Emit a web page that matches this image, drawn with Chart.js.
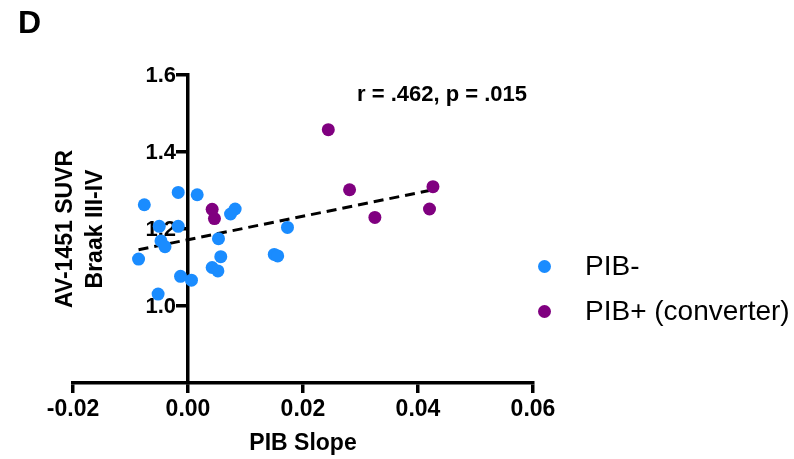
<!DOCTYPE html>
<html>
<head>
<meta charset="utf-8">
<script src="https://cdn.jsdelivr.net/npm/chart.js@4.4.1/dist/chart.umd.min.js"></script>
<style>
  html, body { margin: 0; padding: 0; background: #fff; }
  #wrap { position: relative; width: 794px; height: 459px; }
  .leg { position: absolute; left: 538px; height: 32px; line-height: 32px; display: flex; align-items: center;
         font: 28px 'Liberation Sans', Arial, sans-serif; color: #000; white-space: nowrap; }
  .dot { width: 13px; height: 13px; border-radius: 50%; margin-right: 34px; }
</style>
</head>
<body>
<div id="wrap">
  <canvas id="scatter-chart" width="794" height="459"></canvas>
  <div class="leg" style="top:250px"><span class="dot" style="background:#1a8cff"></span>PIB-</div>
  <div class="leg" style="top:295px"><span class="dot" style="background:#800080"></span>PIB+ (converter)</div>
</div>
<script>
const pibNegX = [-0.0076, -0.0017, 0.0016, 0.0082, 0.0074, -0.0050, -0.0017, -0.0047, -0.0040, 0.0053,
  -0.0086, 0.0057, 0.0042, 0.0052, -0.0013, 0.0006, -0.0052, 0.0173, 0.0150, 0.0156];
const pibNegY = [1.263, 1.295, 1.289, 1.252, 1.239, 1.207, 1.207, 1.169, 1.154, 1.175,
  1.122, 1.128, 1.100, 1.091, 1.077, 1.067, 1.031, 1.204, 1.134, 1.130];

const pibPosX = [0.0042, 0.0046, 0.0244, 0.0281, 0.0325, 0.0426, 0.0420];
const pibPosY = [1.251, 1.227, 1.458, 1.302, 1.230, 1.310, 1.252];

const fitX = [-0.0086, 0.0426];
const fitY = [1.146, 1.302];

const xTicks = [-0.02, 0.0, 0.02, 0.04, 0.06];
const yTicks = [1.0, 1.2, 1.4, 1.6];

const toPoints = (xs, ys) => xs.map((x, i) => ({ x, y: ys[i] }));
const FONT = "'Liberation Sans', Arial, Helvetica, sans-serif";

// y tick labels sit left of the crossing axis (Chart.js puts them on the line)
const yLabelPlugin = {
  id: 'yLabels',
  beforeDatasetsDraw(chart) {
    const { ctx, scales } = chart;
    const axisX = scales.x.getPixelForValue(0);
    ctx.save();
    ctx.fillStyle = '#000';
    ctx.font = 'bold 22px ' + FONT;
    ctx.textAlign = 'right';
    ctx.textBaseline = 'middle';
    yTicks.forEach((v) => {
      ctx.fillText(v.toFixed(1), axisX - 12, scales.y.getPixelForValue(v) + 1);
    });
    ctx.restore();
  },
};

// title letter, y axis title, correlation note
const textPlugin = {
  id: 'texts',
  afterDraw(chart) {
    const ctx = chart.ctx;
    ctx.save();
    ctx.fillStyle = '#000';
    ctx.font = 'bold 32px ' + FONT;
    ctx.textAlign = 'left';
    ctx.textBaseline = 'alphabetic';
    ctx.fillText('D', 18, 33);

    ctx.font = 'bold 22px ' + FONT;
    ctx.fillText('r = .462, p = .015', 357, 101);

    const cy = (chart.chartArea.top + chart.chartArea.bottom) / 2;
    ctx.font = 'bold 23px ' + FONT;
    ctx.textAlign = 'center';
    ctx.textBaseline = 'middle';
    ctx.translate(66, cy);
    ctx.rotate(-Math.PI / 2);
    ctx.fillText('AV-1451 SUVR', 0, 0);
    ctx.fillText('Braak III-IV', 0, 30);
    ctx.restore();
  },
};

const axisLine = { color: '#000', width: 3.5 };
const tickMarks = { drawOnChartArea: false, drawTicks: true, tickLength: 10, color: '#000', lineWidth: 3.5 };

new Chart(document.getElementById('scatter-chart'), {
  type: 'scatter',
  data: {
    datasets: [
      {
        label: 'PIB-',
        data: toPoints(pibNegX, pibNegY),
        backgroundColor: '#1a8cff',
        borderWidth: 0,
        pointRadius: 6.5,
        order: 1,
      },
      {
        label: 'PIB+ (converter)',
        data: toPoints(pibPosX, pibPosY),
        backgroundColor: '#800080',
        borderWidth: 0,
        pointRadius: 6.5,
        order: 2,
      },
      {
        label: 'fit',
        type: 'line',
        data: toPoints(fitX, fitY),
        borderColor: '#000',
        borderWidth: 3,
        borderDash: [10, 6],
        pointRadius: 0,
        fill: false,
        order: 3,
      },
    ],
  },
  options: {
    responsive: false,
    animation: false,
    devicePixelRatio: 1,
    layout: {
      padding: { left: 73, right: 261, top: 75, bottom: 0 },
    },
    scales: {
      x: {
        type: 'linear',
        min: -0.02,
        max: 0.06,
        afterBuildTicks: (scale) => { scale.ticks = xTicks.map((v) => ({ value: v })); },
        afterFit: (scale) => { scale.height = 76; },
        border: axisLine,
        grid: tickMarks,
        ticks: {
          color: '#000',
          padding: 3,
          font: { family: FONT, size: 23, weight: 'bold' },
          callback: (v) => Number(v).toFixed(2),
        },
        title: {
          display: true,
          text: 'PIB Slope',
          color: '#000',
          padding: { top: 0, bottom: 2 },
          font: { family: FONT, size: 23, weight: 'bold' },
        },
      },
      y: {
        type: 'linear',
        position: { x: 0 },
        min: 0.8,
        max: 1.6,
        afterBuildTicks: (scale) => { scale.ticks = yTicks.map((v) => ({ value: v })); },
        border: axisLine,
        grid: tickMarks,
        ticks: { display: false },
      },
    },
    plugins: {
      legend: { display: false },
      tooltip: { enabled: false },
    },
  },
  plugins: [yLabelPlugin, textPlugin],
});
</script>
</body>
</html>
